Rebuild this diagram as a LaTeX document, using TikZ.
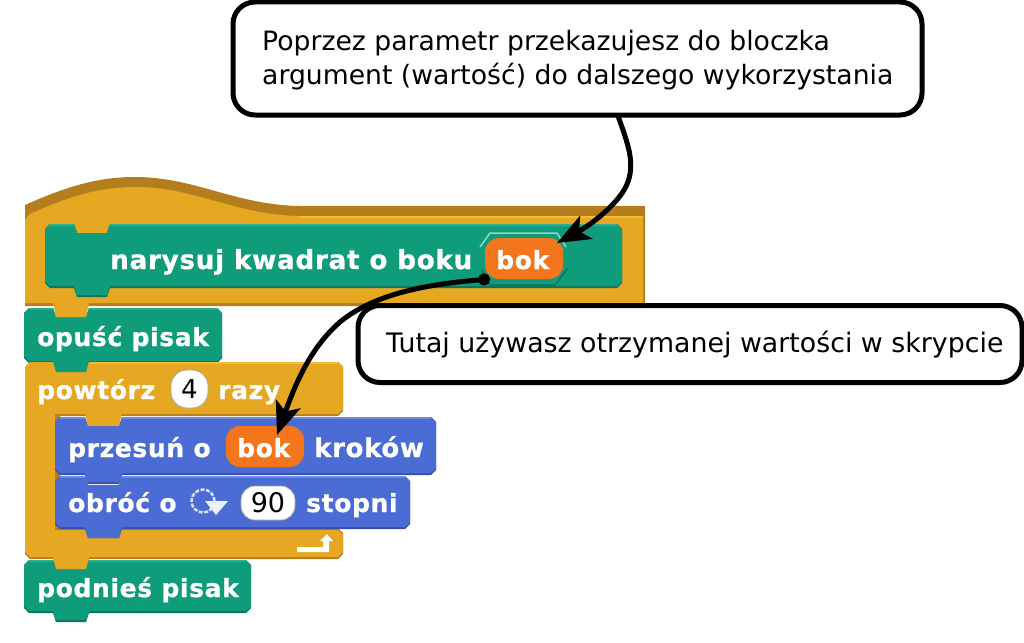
\documentclass[tikz,border=0pt]{standalone}
\usepackage{fontspec}
\setmainfont{DejaVu Sans}
\newfontfamily\blockfont[LetterSpace=2.5,FakeBold=0.8]{DejaVu Sans Bold}
\usetikzlibrary{arrows.meta}
\definecolor{greenB}{HTML}{0E9C7A}\definecolor{greenD}{HTML}{0B7560}\definecolor{greenL}{HTML}{2BAE8E}
\definecolor{orangeB}{HTML}{E6A822}\definecolor{orangeD}{HTML}{B47E1C}\definecolor{orangeL}{HTML}{F0BE3C}
\definecolor{blueB}{HTML}{4A6CD4}\definecolor{blueD}{HTML}{3A50A8}\definecolor{blueL}{HTML}{6A8AE8}
\definecolor{varB}{HTML}{F3761D}
\newcommand\blkpath[7]{(#1,#2+5) -- (#1+5,#2) -- (#5,#2) -- (#5+3,#2+#7) -- (#5+#6-3,#2+#7) -- (#5+#6,#2) -- (#3-5,#2) -- (#3,#2+5) -- (#3,#4-5) -- (#3-5,#4) -- (#5+#6,#4) -- (#5+#6-3,#4+#7) -- (#5+3,#4+#7) -- (#5,#4) -- (#1+5,#4) -- (#1,#4-5) -- cycle}
% prefix, x0,y0,x1,y1,notch x,notch w
\newcommand\blk[7]{%
  \fill[#1D] \blkpath{#2}{#3}{#4}{#5}{#6}{#7}{9};
  \fill[#1B] \blkpath{#2}{#3}{#4}{#5-2}{#6}{#7}{9};
  \draw[#1L,line width=1.5pt] (#2+5,#3+1) -- (#6,#3+1) (#6+#7,#3+1) -- (#4-5,#3+1);
}
\tikzset{
  blocktext/.style={anchor=base west,text=white,inner sep=0pt,font=\blockfont\fontsize{25}{25}\selectfont},
  varnode/.style={rounded corners=14pt,fill=varB,inner sep=0pt,minimum width=78pt,minimum height=41pt},
  valnode/.style={fill=white,draw=black!35,line width=.8pt,inner sep=0pt,text=black},
  callout/.style={draw=black,line width=5pt,fill=white,rounded corners=22pt,inner sep=0pt},
  calltext/.style={anchor=base west,inner sep=0pt,text=black,font=\fontsize{26.65}{26.65}\selectfont},
  conn/.style={line width=5pt,black}
}
\begin{document}
\begin{tikzpicture}[x=1pt,y=-1pt]
\useasboundingbox (0,0) rectangle (1024,642);
% hat block
\fill[orangeD] (25,306) -- (25,205) .. controls (70,185) and (100,177) .. (135,177) .. controls (195,177) and (235,205) .. (300,206) -- (645,206) -- (645,306) -- (88,306) -- (85,318) -- (58,318) -- (55,306) -- cycle;
\fill[orangeB] (25,303) -- (25,220) -- (30,214) .. controls (70,196) and (100,187) .. (135,187) .. controls (195,187) and (235,215) .. (300,216) -- (643,216) -- (643,303) -- (88,303) -- (85,316) -- (58,316) -- (55,303) -- cycle;
\draw[orangeL,line width=1.5pt] (300,217) -- (643,217);
\blk{green}{45}{224}{622}{288}{74}{36}
% parameter slot marks
\draw[greenL!50!white,line width=1.5pt] (480,247) -- (490,233) -- (557,233) -- (566,247);
\draw[greenD,line width=1.5pt] (482,270) -- (490,285) -- (555,285) -- (568,268);
\node[varnode] (bokA) at (524,258.5) {};
\node[blocktext] (bokAt) at (496,269) {bok};
\node[blocktext,font=\blockfont\fontsize{26.3}{26.3}\selectfont] (narysuj) at (110,269) {narysuj kwadrat o boku};
% opusc
\blk{green}{24}{308}{222}{363}{53}{36}
\fill[orangeB] (53,303) -- (89,303) -- (86,317) -- (56,317) -- cycle;
\node[blocktext] (opusc) at (37,346) {opuść pisak};
% repeat
\fill[orangeD] (25,367) -- (30,362) -- (338,362) -- (343,367) -- (343,411) -- (338,416) -- (60,416) -- (60,528) -- (338,528) -- (343,533) -- (343,554) -- (338,559) -- (89,559) -- (86,570) -- (56,570) -- (53,559) -- (30,559) -- (25,554) -- cycle;
\fill[orangeB] (25,367) -- (30,362) -- (338,362) -- (343,367) -- (343,409) -- (338,414) -- (55,414) -- (55,530) -- (338,530) -- (343,535) -- (343,552) -- (338,557) -- (89,557) -- (86,568) -- (56,568) -- (53,557) -- (30,557) -- (25,552) -- cycle;
\fill[greenB] (53,361) -- (89,361) -- (86,372) -- (56,372) -- cycle;
\draw[orangeL,line width=1.5pt] (90,363) -- (338,363);
\node[blocktext] (powtorz) at (37,399) {powtórz};
\node[valnode,minimum width=37pt,minimum height=38pt,rounded corners=16pt,font=\fontsize{26}{26}\selectfont] (four) at (189.5,389) {4};
\node[blocktext] (razy) at (218,399) {razy};
% move
\blk{blue}{55}{417}{436}{475}{85}{37}
\fill[orangeB] (85,413) -- (122,413) -- (119,426) -- (88,426) -- cycle;
\node[blocktext] (przesun) at (68,457) {przesuń o};
\node[varnode] (bokB) at (265,446.5) {};
\node[blocktext] (bokBt) at (237,457) {bok};
\node[blocktext,font=\blockfont\fontsize{26}{26}\selectfont] (krokow) at (314,457) {kroków};
% turn
\blk{blue}{55}{476}{410}{529}{85}{37}
\node[blocktext] (obroc) at (68,512) {obróć o};
\draw[white!80!blueB,line width=2.5pt,dash pattern=on 4pt off 1.5pt] (203,501) circle (11.5pt);
\fill[white!90!blueB] (205,501) -- (228,501) -- (216,515) -- cycle;
\node[valnode,minimum width=54pt,minimum height=34pt,rounded corners=14pt,font=\fontsize{27}{27}\selectfont] (ninety) at (268,503) {90};
\node[blocktext] (stopni) at (306,512) {stopni};
\fill[blueB] (85,526) -- (122,526) -- (119,538) -- (88,538) -- cycle;
% loop return arrow
\fill[white] (297,547) -- (323,547) -- (323,541) -- (320,541) -- (327,534) -- (333,541) -- (329,541) -- (329,552) -- (297,552) -- cycle;
% pen up
\blk{green}{24}{560}{251}{613}{53}{36}
\fill[orangeB] (53,556) -- (89,556) -- (86,569) -- (56,569) -- cycle;
\node[blocktext] (podnies) at (37,597) {podnieś pisak};
% callouts
\coordinate (startA) at (617,113);
\coordinate (tipA) at (557,243);
\coordinate (startB) at (490,279);
\coordinate (tipB) at (277,435);
\draw[conn,-{Stealth[length=33pt,width=26pt,inset=8pt]}] (startA) .. controls (628,145) and (640,170) .. (620,196) .. controls (605,215) and (585,228) .. (tipA);
\draw[conn,{Circle[length=12pt]}-{Stealth[length=33pt,width=26pt,inset=8pt]}] (startB) .. controls (430,284) and (375,293) .. (340,322) .. controls (310,348) and (295,385) .. (tipB);
\node[callout,minimum width=689pt,minimum height=113pt] (calloutA) at (577.5,58.5) {};
\node[calltext] (lineA) at (262,50) {Poprzez parametr przekazujesz do bloczka};
\node[calltext] (lineB) at (262,84) {argument (wartość) do dalszego wykorzystania};
\node[callout,minimum width=664pt,minimum height=77pt] (calloutB) at (690,344) {};
\node[calltext,font=\fontsize{26.8}{26.8}\selectfont] (lineC) at (386,352) {Tutaj używasz otrzymanej wartości w skrypcie};
\end{tikzpicture}
\end{document}
